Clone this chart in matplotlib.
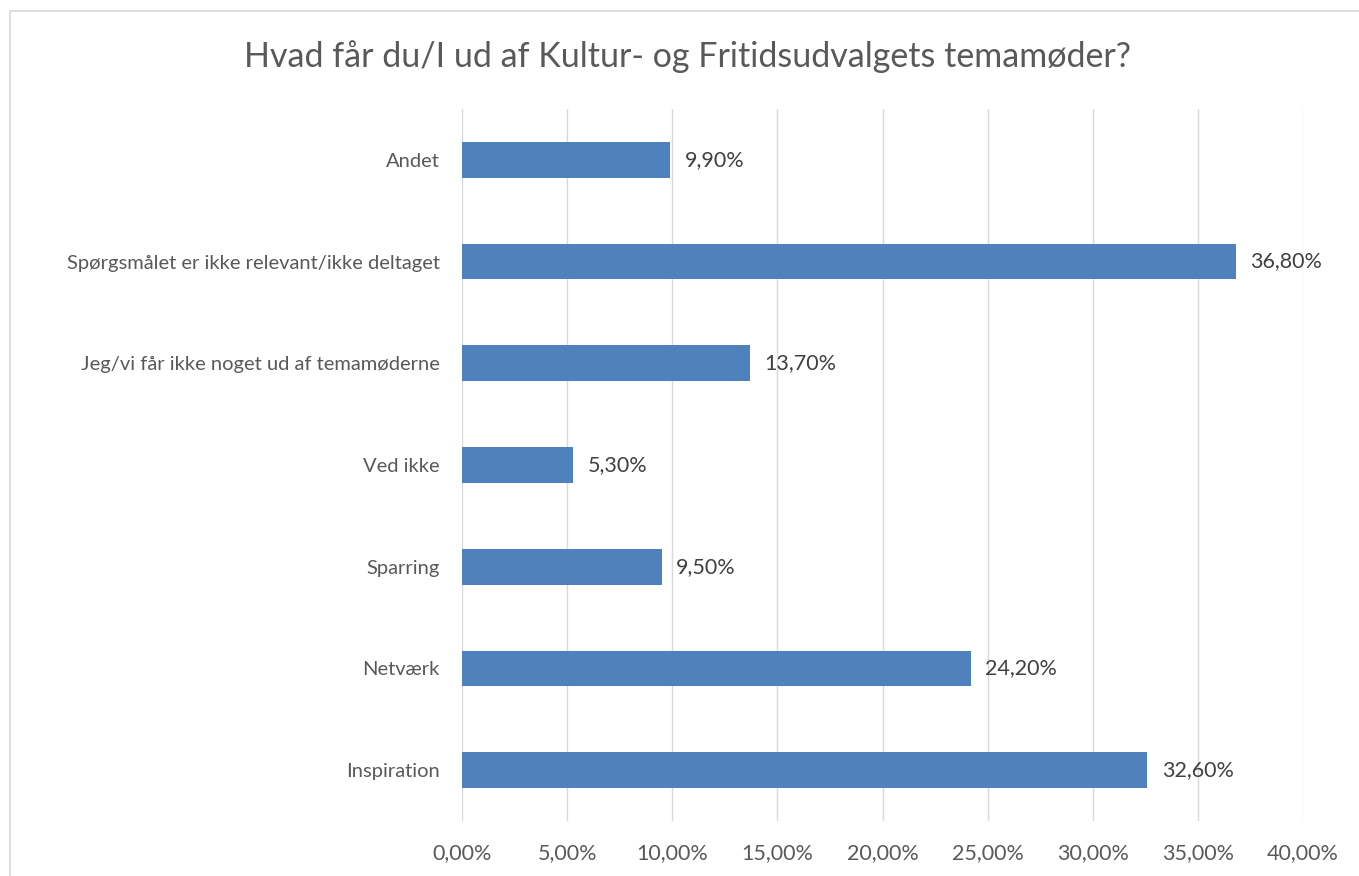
import matplotlib
matplotlib.use('Agg')
import matplotlib.pyplot as plt
from matplotlib.ticker import FuncFormatter, MultipleLocator
from matplotlib.lines import Line2D

plt.rcParams['font.family'] = ['Lato', 'DejaVu Sans']

TITLE = 'Hvad får du/I ud af Kultur- og Fritidsudvalgets temamøder?'
# bottom -> top
CATS = ['Inspiration', 'Netværk', 'Sparring', 'Ved ikke',
        'Jeg/vi får ikke noget ud af temamøderne',
        'Spørgsmålet er ikke relevant/ikke deltaget', 'Andet']
VALS = [32.6, 24.2, 9.5, 5.3, 13.7, 36.8, 9.9]

C_BAR, C_GRID, C_TXT, C_LBL = '#4F81BD', '#D9D9D9', '#595959', '#404040'
W, H = 1359, 876


def pct(v):
    return f'{v:.2f}%'.replace('.', ',')


fig = plt.figure(figsize=(W / 100, H / 100), dpi=100)
ax = fig.add_axes([462 / W, 55 / H, 841 / W, 712 / H])

y = list(range(len(CATS)))
ax.barh(y, VALS, height=0.35, color=C_BAR, zorder=3)
for yi, v in zip(y, VALS):
    ax.annotate(pct(v), (v, yi), xytext=(10.5, 0), textcoords='offset points',
                ha='left', va='center', fontsize=15.5, color=C_LBL)

ax.set_xlim(0, 40)
ax.set_ylim(-0.5, len(CATS) - 0.5)
ax.xaxis.set_major_locator(MultipleLocator(5))
ax.xaxis.set_major_formatter(FuncFormatter(lambda v, _: pct(v)))
ax.set_yticks(y)
ax.set_yticklabels(CATS)
ax.grid(axis='x', color=C_GRID, lw=1.0, zorder=0)
for s in ax.spines.values():
    s.set_visible(False)
ax.tick_params(axis='x', length=0, pad=16, labelsize=15.5, labelcolor=C_TXT)
ax.tick_params(axis='y', length=0, pad=16, labelsize=14.5, labelcolor=C_TXT)

fig.text(688 / W, 1 - 57 / H, TITLE, ha='center', va='center', fontsize=24.5, color=C_TXT)

# chart frame (only top/left edges visible in the crop)
fig.add_artist(Line2D([9.5 / W, 9.5 / W], [0, 1 - 10.5 / H], transform=fig.transFigure, color=C_GRID, lw=1.2))
fig.add_artist(Line2D([9.5 / W, 1], [1 - 10.5 / H, 1 - 10.5 / H], transform=fig.transFigure, color=C_GRID, lw=1.2))

fig.savefig('out.png', dpi=100)
